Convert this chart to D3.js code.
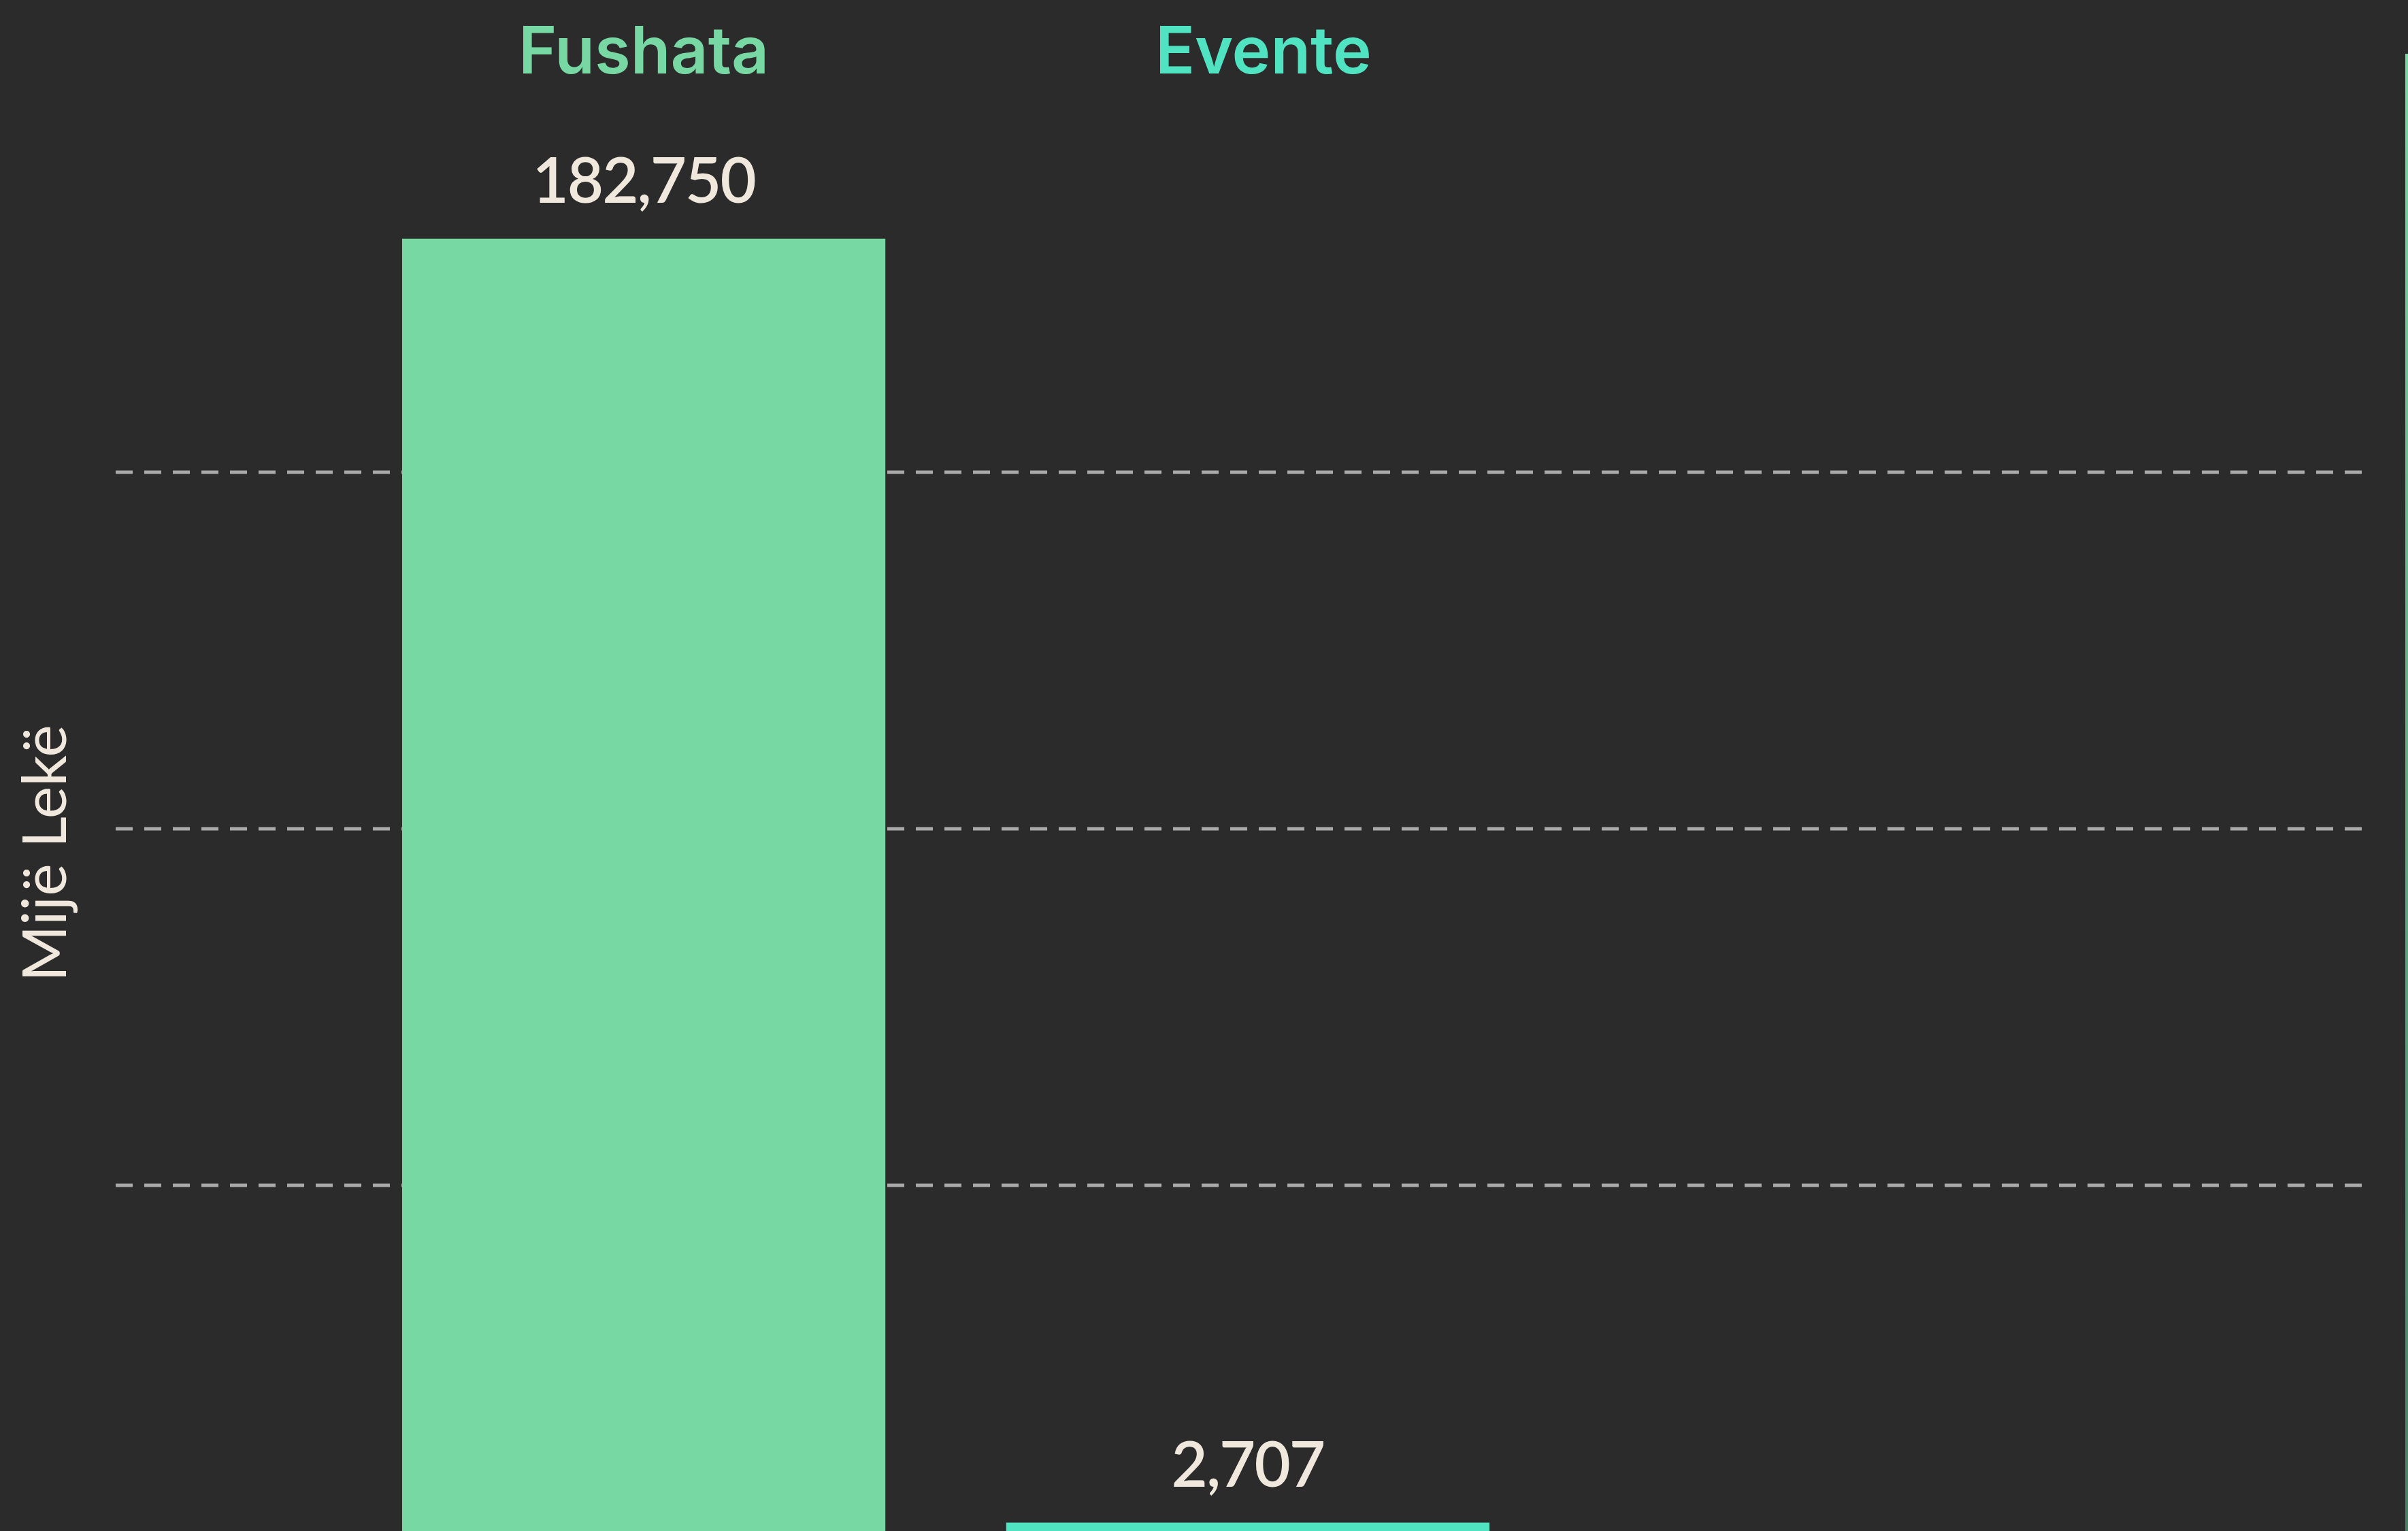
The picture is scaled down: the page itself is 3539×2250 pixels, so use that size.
<!DOCTYPE html>
<html>
<head>
<meta charset="utf-8">
<script src="https://cdn.jsdelivr.net/npm/d3@7"></script>
<style>
  html, body { margin: 0; padding: 0; background: #2b2b2b; }
  svg { display: block; }
</style>
</head>
<body>
<svg id="chart" width="3539" height="2250"></svg>
<script>
// ---- data ----
const categories = ["Fushata", "Evente"];
const values = [182750, 2707];
const barColors = ["#78d8a4", "#50e3c2"];
const gridTicks = [50000, 100000, 150000];
const yAxisLabel = "Mijë Lekë";

// ---- layout ----
const W = 3539, H = 2250;
const svg = d3.select("#chart");

svg.append("rect").attr("width", W).attr("height", H).attr("fill", "#2b2b2b");

const x = d3.scaleBand()
  .domain(categories)
  .range([591, 2189])
  .paddingInner(0.2)
  .paddingOuter(0);

const y = d3.scaleLinear()
  .domain([0, 200000])
  .range([2266, 170]);

// gridlines
const grid = svg.append("g").attr("class", "grid");
grid.selectAll("line")
  .data(gridTicks)
  .join("line")
  .attr("x1", 170)
  .attr("x2", 3471)
  .attr("y1", d => y(d))
  .attr("y2", d => y(d))
  .attr("stroke", "#aaaaaa")
  .attr("stroke-width", 5)
  .attr("stroke-dasharray", "25,17");

// bars
const data = categories.map((c, i) => ({ cat: c, value: values[i], color: barColors[i] }));

svg.append("g").selectAll("rect")
  .data(data)
  .join("rect")
  .attr("x", d => x(d.cat))
  .attr("width", x.bandwidth())
  .attr("y", d => y(d.value))
  .attr("height", d => y(0) - y(d.value))
  .attr("fill", d => d.color);

// value labels
const fmt = d3.format(",");
svg.append("g").selectAll("text")
  .data(data)
  .join("text")
  .attr("x", d => x(d.cat) + x.bandwidth() / 2)
  .attr("y", d => y(d.value) - 53)
  .attr("text-anchor", "middle")
  .attr("font-family", "Lato, sans-serif")
  .attr("font-weight", 600)
  .attr("font-size", 92)
  .attr("letter-spacing", -2)
  .attr("fill", "#f0e8dc")
  .text(d => fmt(d.value));

// category titles on top
svg.append("g").selectAll("text")
  .data(data)
  .join("text")
  .attr("x", d => x(d.cat) + x.bandwidth() / 2)
  .attr("dx", (d, i) => i === 1 ? 23 : 0)
  .attr("y", 108)
  .attr("text-anchor", "middle")
  .attr("font-family", "Inter, sans-serif")
  .attr("font-weight", 600)
  .attr("font-size", 96)
  .attr("fill", d => d.color)
  .text(d => d.cat);

// y axis label
svg.append("text")
  .attr("transform", "translate(97,1254) rotate(-90)")
  .attr("text-anchor", "middle")
  .attr("font-family", "Lato, sans-serif")
  .attr("font-weight", 400)
  .attr("font-size", 90)
  .attr("fill", "#f0e8dc")
  .text(yAxisLabel);

// right-edge partial element (cut off by the frame)
const grad = svg.append("defs").append("linearGradient")
  .attr("id", "edgeGrad").attr("x1", 0).attr("x2", 0).attr("y1", 0).attr("y2", 1);
grad.append("stop").attr("offset", "0%").attr("stop-color", "#78d8a4");
grad.append("stop").attr("offset", "100%").attr("stop-color", "#4a7f66");
svg.append("rect")
  .attr("x", 3535).attr("y", 79).attr("width", 4).attr("height", H - 79)
  .attr("fill", "url(#edgeGrad)");
</script>
</body>
</html>
